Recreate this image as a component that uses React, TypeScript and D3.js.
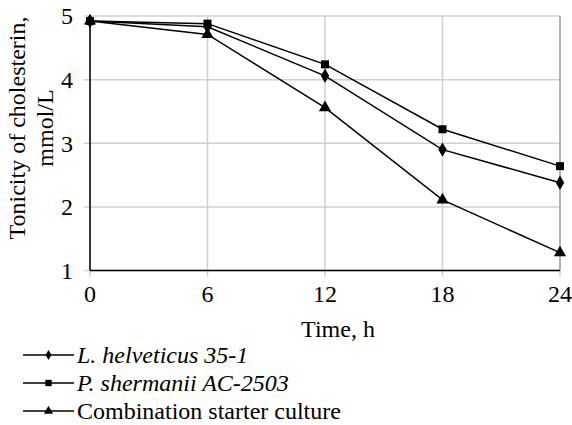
import React from "react";
import * as d3 from "d3";

const hours = [0, 6, 12, 18, 24];
const helveticus = [4.92, 4.83, 4.06, 2.9, 2.38];
const shermanii = [4.92, 4.88, 4.24, 3.22, 2.64];
const combination = [4.92, 4.71, 3.56, 2.11, 1.28];
const yTicks = [1, 2, 3, 4, 5];
const xTicks = [0, 6, 12, 18, 24];

const seriesNames = ["L. helveticus 35-1", "P. shermanii AC-2503", "Combination starter culture"];
const seriesItalic = [true, true, false];
const seriesValues = [helveticus, shermanii, combination];
const seriesSymbols = [d3.symbolDiamond, d3.symbolSquare, d3.symbolTriangle];

const W = 572;
const H = 425;
const FONT = "Liberation Serif, Times New Roman, Tinos, DejaVu Serif, serif";

export default function App() {
  const x = d3.scaleLinear().domain([0, 24]).range([90, 560]);
  const y = d3.scaleLinear().domain([1, 5]).range([270.5, 16]);
  const line = d3
    .line<[number, number]>()
    .x((d) => x(d[0]))
    .y((d) => y(d[1]));
  const sizes = [60, 64, 64];
  const legSizes = [30, 40, 36];

  return (
    <svg
      width={W}
      height={H}
      style={{ position: "absolute", left: 0, top: 0, background: "#fff", fontFamily: FONT }}
    >
      {/* gridlines */}
      {yTicks.map((t) => (
        <line key={"gy" + t} x1={84} x2={x(24)} y1={y(t)} y2={y(t)} stroke="#d0d0d0" strokeWidth={1.5} />
      ))}
      {xTicks.map((t) => (
        <line key={"gx" + t} x1={x(t)} x2={x(t)} y1={y(5)} y2={y(1) + 6} stroke="#d0d0d0" strokeWidth={1.5} />
      ))}
      <line x1={x(24)} x2={x(24)} y1={y(5)} y2={y(1)} stroke="#a6a6a6" strokeWidth={1.5} />
      {/* axes */}
      <line x1={x(0)} x2={x(0)} y1={y(5)} y2={y(1)} stroke="#000" strokeWidth={1.5} />
      <line x1={x(0)} x2={x(24)} y1={y(1)} y2={y(1)} stroke="#000" strokeWidth={1.5} />
      {/* tick labels */}
      {yTicks.map((t) => (
        <text key={"ly" + t} x={73} y={y(t)} dy="0.35em" textAnchor="end" fontSize={24}>
          {t}
        </text>
      ))}
      {xTicks.map((t) => (
        <text key={"lx" + t} x={x(t)} y={302} textAnchor="middle" fontSize={24}>
          {t}
        </text>
      ))}
      {/* axis titles */}
      <text x={338} y={337} textAnchor="middle" fontSize={24}>
        Time, h
      </text>
      <text transform="translate(25,128) rotate(-90)" textAnchor="middle" fontSize={24}>
        Tonicity of cholesterin,
      </text>
      <text transform="translate(53,128) rotate(-90)" textAnchor="middle" fontSize={24}>
        mmol/L
      </text>
      {/* series */}
      {seriesValues.map((vals, i) => {
        const pts = hours.map((h, j) => [h, vals[j]] as [number, number]);
        const sym = d3.symbol().type(seriesSymbols[i]).size(sizes[i])();
        return (
          <g key={"s" + i}>
            <path d={line(pts) || ""} fill="none" stroke="#000" strokeWidth={1.5} />
            {pts.map((p, j) => (
              <path key={j} d={sym || ""} transform={`translate(${x(p[0])},${y(p[1])})`} fill="#000" />
            ))}
          </g>
        );
      })}
      {/* legend */}
      {seriesNames.map((name, i) => {
        const ly = 355 + i * 28;
        const sym = d3.symbol().type(seriesSymbols[i]).size(legSizes[i])();
        return (
          <g key={"lg" + i}>
            <line x1={23} x2={74} y1={ly} y2={ly} stroke="#000" strokeWidth={1.5} />
            <path d={sym || ""} transform={`translate(48.5,${ly})`} fill="#000" />
            <text x={77} y={ly} dy="0.33em" fontSize={24} fontStyle={seriesItalic[i] ? "italic" : "normal"}>
              {name}
            </text>
          </g>
        );
      })}
    </svg>
  );
}
